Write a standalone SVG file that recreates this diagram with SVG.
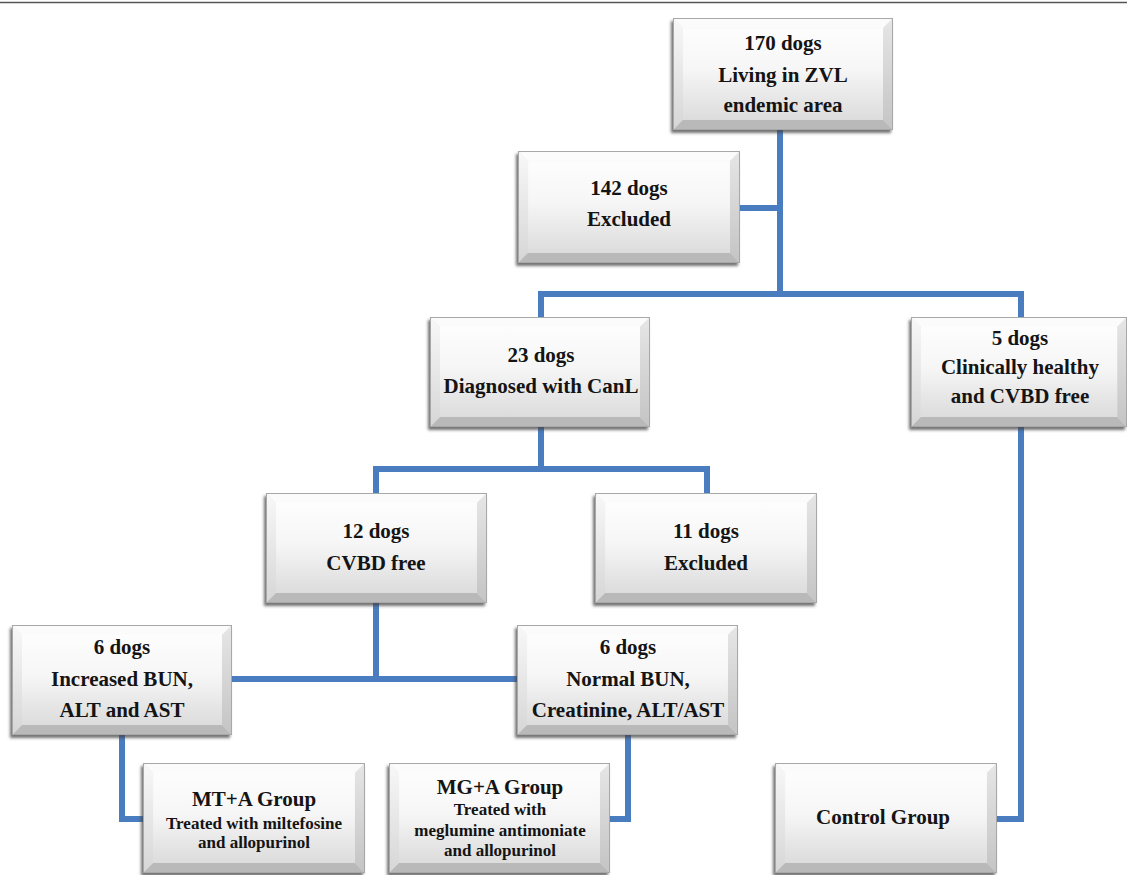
<svg xmlns="http://www.w3.org/2000/svg" xmlns:xlink="http://www.w3.org/1999/xlink" width="1127" height="875" viewBox="0 0 1127 875">
<style>
.t{font-family:"Liberation Serif","Times New Roman",serif;font-weight:bold;font-size:21px;fill:#141414;text-anchor:middle}
.s{font-size:17px}
.c{fill:none;stroke:#4a7dbf;stroke-width:6;stroke-linejoin:miter;stroke-linecap:butt}
</style>
<defs>
<linearGradient id="gIn" x1="0" y1="0" x2="0" y2="1">
<stop offset="0" stop-color="#fdfdfd"/><stop offset="0.45" stop-color="#f6f6f6"/><stop offset="1" stop-color="#dcdcdc"/>
</linearGradient>
<linearGradient id="gL" x1="0" y1="0" x2="0" y2="1">
<stop offset="0" stop-color="#f8f8f8"/><stop offset="1" stop-color="#d6d6d6"/>
</linearGradient>
<linearGradient id="gR" x1="0" y1="0" x2="0" y2="1">
<stop offset="0" stop-color="#e6e6e6"/><stop offset="1" stop-color="#c4c4c4"/>
</linearGradient>
<filter id="sh" x="-10%" y="-10%" width="120%" height="130%">
<feDropShadow dx="-2" dy="3" stdDeviation="1.5" flood-color="#444" flood-opacity="0.75"/>
</filter>
<symbol id="box" viewBox="0 0 220 110" preserveAspectRatio="none">
<rect x="0" y="0" width="220" height="110" fill="#e4e4e4"/>
<polygon points="0,0 220,0 210,10 10,10" fill="#fbfbfb"/>
<polygon points="0,0 10,10 10,100 0,110" fill="url(#gL)"/>
<polygon points="220,0 220,110 210,100 210,10" fill="url(#gR)"/>
<polygon points="0,110 10,100 210,100 220,110" fill="#b9b9b9"/>
<rect x="10" y="10" width="200" height="90" fill="url(#gIn)"/>
<rect x="0.5" y="0.5" width="219" height="109" fill="none" stroke="#a8a8a8" stroke-width="1"/>
</symbol>
</defs>
<rect x="0" y="0" width="1127" height="875" fill="#ffffff"/>
<line x1="0" y1="2.5" x2="1127" y2="2.5" stroke="#555" stroke-width="1.5"/>
<g id="connectors">
<path class="c" d="M780,130 V294"/>
<path class="c" d="M740,208 H780"/>
<path class="c" d="M541,317 V294 H1021 V317"/>
<path class="c" d="M541,427 V469"/>
<path class="c" d="M376,493 V469 H707 V493"/>
<path class="c" d="M376,603 V679"/>
<path class="c" d="M232,679 H517"/>
<path class="c" d="M122,735 V819 H143"/>
<path class="c" d="M628,735 V819 H610"/>
<path class="c" d="M1021,427 V819 H997"/>
</g>
<g id="n170">
<use xlink:href="#box" x="673" y="18" width="220" height="112" filter="url(#sh)"/>
<text class="t" x="783" y="50">170 dogs</text>
<text class="t" x="783" y="82">Living in ZVL</text>
<text class="t" x="783" y="112">endemic area</text>
</g>
<g id="n142">
<use xlink:href="#box" x="518" y="151" width="222" height="112" filter="url(#sh)"/>
<text class="t" x="629" y="195">142 dogs</text>
<text class="t" x="629" y="226">Excluded</text>
</g>
<g id="n23">
<use xlink:href="#box" x="430" y="317" width="220" height="110" filter="url(#sh)"/>
<text class="t" x="541" y="362">23 dogs</text>
<text class="t" x="541" y="393">Diagnosed with CanL</text>
</g>
<g id="n5">
<use xlink:href="#box" x="911" y="317" width="216" height="110" filter="url(#sh)"/>
<text class="t" x="1020" y="345">5 dogs</text>
<text class="t" x="1020" y="374">Clinically healthy</text>
<text class="t" x="1020" y="403">and CVBD free</text>
</g>
<g id="n12">
<use xlink:href="#box" x="266" y="493" width="221" height="110" filter="url(#sh)"/>
<text class="t" x="376" y="538">12 dogs</text>
<text class="t" x="376" y="570">CVBD free</text>
</g>
<g id="n11">
<use xlink:href="#box" x="595" y="493" width="222" height="110" filter="url(#sh)"/>
<text class="t" x="706" y="538">11 dogs</text>
<text class="t" x="706" y="570">Excluded</text>
</g>
<g id="n6a">
<use xlink:href="#box" x="12" y="625" width="220" height="110" filter="url(#sh)"/>
<text class="t" x="122" y="654">6 dogs</text>
<text class="t" x="122" y="686">Increased BUN,</text>
<text class="t" x="122" y="717">ALT and AST</text>
</g>
<g id="n6b">
<use xlink:href="#box" x="517" y="625" width="221" height="110" filter="url(#sh)"/>
<text class="t" x="628" y="654">6 dogs</text>
<text class="t" x="628" y="686">Normal BUN,</text>
<text class="t" x="628" y="717">Creatinine, ALT/AST</text>
</g>
<g id="nMT">
<use xlink:href="#box" x="143" y="763" width="222" height="110" filter="url(#sh)"/>
<text class="t" x="254" y="806">MT+A Group</text>
<text class="t s" x="254" y="829">Treated with miltefosine</text>
<text class="t s" x="254" y="848">and allopurinol</text>
</g>
<g id="nMG">
<use xlink:href="#box" x="389" y="763" width="221" height="110" filter="url(#sh)"/>
<text class="t" x="500" y="794">MG+A Group</text>
<text class="t s" x="500" y="815">Treated with</text>
<text class="t s" x="500" y="836">meglumine antimoniate</text>
<text class="t s" x="500" y="856">and allopurinol</text>
</g>
<g id="nCtrl">
<use xlink:href="#box" x="775" y="763" width="222" height="110" filter="url(#sh)"/>
<text class="t" x="883" y="824">Control Group</text>
</g>
</svg>
